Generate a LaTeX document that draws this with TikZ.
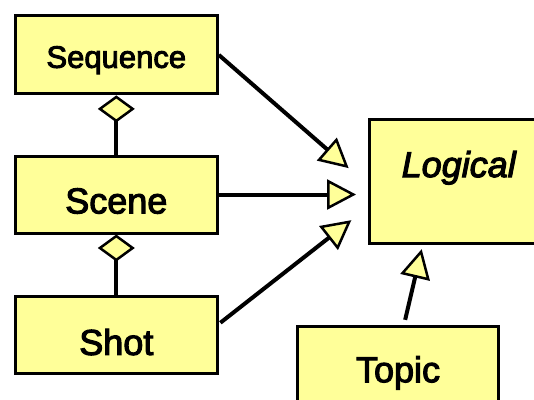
\documentclass[tikz,border=0pt]{standalone}
\usepackage{fontspec}
\setmainfont{Liberation Sans}
\newfontfamily\classfont{Liberation Sans}[FakeBold=3]
\usetikzlibrary{arrows.meta}

\definecolor{classfill}{HTML}{FFFF99}

\tikzset{
  classbox/.style={draw=black, fill=classfill, line width=3pt, rectangle,
    inner sep=0pt, align=center, text depth=0pt},
  smallname/.style={font=\classfont\fontsize{31pt}{33pt}\selectfont},
  bigname/.style={font=\classfont\fontsize{36pt}{38pt}\selectfont},
  aggregation/.style={line width=4pt,
    -{Diamond[fill=classfill, line width=2.5pt, length=27pt, width=37pt]}},
  generalization/.style={line width=4pt,
    -{Triangle[fill=classfill, line width=2.5pt, length=29pt, width=30pt]}},
}

\begin{document}
\begin{tikzpicture}[x=1pt, y=-1pt]
  \useasboundingbox (0,0) rectangle (534,399);
  \fill[white] (0,0) rectangle (534,399);
  \clip (0,0) rectangle (534,399);

  % classes on the left
  \node[classbox, smallname, minimum width=202pt, minimum height=78pt,
        text height=25.8pt] (sequence) at (116.3,54.9) {Sequence};
  \node[classbox, bigname, minimum width=202pt, minimum height=77pt,
        text height=37.8pt] (scene) at (116.3,194.5) {Scene};
  \node[classbox, bigname, minimum width=202pt, minimum height=77.6pt,
        text height=39.8pt] (shot) at (116.3,335) {Shot};

  % abstract class and the topic class
  \node[classbox, font=\classfont\fontsize{36pt}{38pt}\selectfont\itshape,
        minimum width=178.5pt, minimum height=123.6pt,
        text height=25.8pt, text depth=34.2pt] (logical) at (458.75,181.3) {Logical};
  \node[classbox, bigname, minimum width=201.6pt, minimum height=85.8pt,
        text height=26.2pt] (topic) at (398,369.1) {Topic};

  % aggregations
  \draw[aggregation] (scene.north) -- (sequence.south);
  \draw[aggregation] (shot.north) -- (scene.south);

  % generalizations
  \draw[generalization, shorten >=25.7pt]
    (sequence.east) -- ([yshift=-3.7pt]logical.west);
  \draw[generalization, shorten >=12pt]
    (scene.east) -- (scene.east -| logical.west);
  \draw[generalization, shorten <=2pt, shorten >=21.2pt]
    ([yshift=11pt]shot.east) -- ([yshift=-25.8pt]logical.west);
  \draw[generalization, shorten <=5pt, shorten >=4.7pt]
    ([xshift=6pt]topic.north) -- ([xshift=-36pt]logical.south);
\end{tikzpicture}
\end{document}
